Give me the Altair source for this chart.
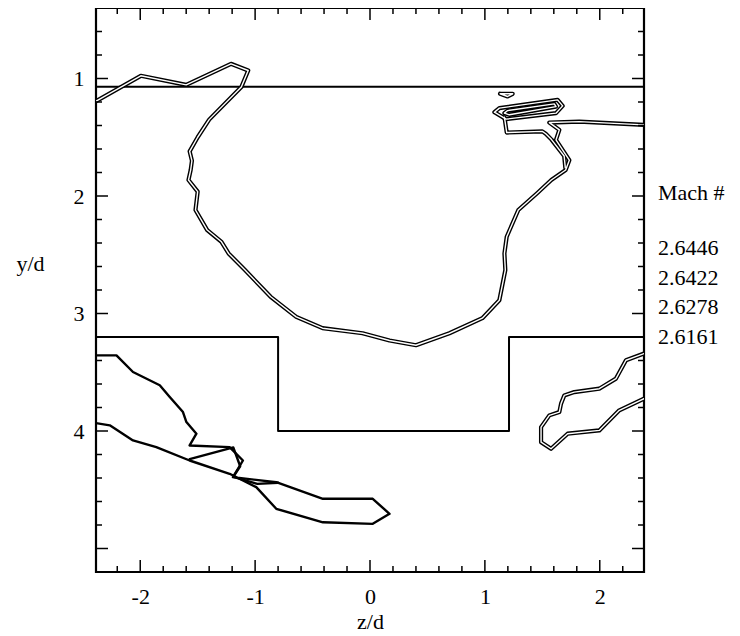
import altair as alt
import pandas as pd

# ---------------- axes ----------------
z_domain = [-2.385, 2.385]
y_domain = [0.4, 5.2]
x_major = [-2, -1, 0, 1, 2]
y_major = [1, 2, 3, 4, 5]
y_labeled = [1, 2, 3, 4]
x_minor = [-2.2, -1.8, -1.6, -1.4, -1.2, -0.8, -0.6, -0.4, -0.2, 0.2, 0.4, 0.6, 0.8,
           1.2, 1.4, 1.6, 1.8, 2.2]
y_minor = [0.6, 0.8, 1.2, 1.4, 1.6, 1.8, 2.2, 2.4, 2.6, 2.8, 3.2, 3.4, 3.6, 3.8,
           4.2, 4.4, 4.6, 4.8]

# ---------------- geometry ----------------
plate_line = [(-2.385, 1.07), (2.385, 1.07)]
step_profile = [(-2.385, 3.2), (-0.80, 3.2), (-0.80, 4.0), (1.21, 4.0), (1.21, 3.2), (2.385, 3.2)]

# ---------------- contours (Mach levels) ----------------
mach_levels = ["2.6446", "2.6422", "2.6278", "2.6161"]

main_u = [(-2.38, 1.19), (-1.995, 0.977), (-1.60, 1.054), (-1.21, 0.875), (-1.06, 0.932),
          (-1.12, 1.073), (-1.40, 1.35), (-1.50, 1.50), (-1.57, 1.62), (-1.55, 1.70),
          (-1.561, 1.779), (-1.58, 1.864), (-1.50, 1.963), (-1.519, 2.119), (-1.417, 2.29),
          (-1.293, 2.39), (-1.231, 2.489), (-1.088, 2.63), (-0.865, 2.858), (-0.642, 3.029),
          (-0.413, 3.125), (-0.065, 3.168), (0.17, 3.23), (0.40, 3.27), (0.691, 3.168),
          (0.978, 3.04), (1.126, 2.887), (1.178, 2.63), (1.17, 2.489), (1.19, 2.347),
          (1.291, 2.119), (1.457, 1.974), (1.578, 1.864), (1.703, 1.779), (1.735, 1.695),
          (1.619, 1.523), (1.648, 1.437), (1.561, 1.375), (1.822, 1.367), (2.385, 1.395)]
inner_branch = [(1.70, 1.76), (1.69, 1.66), (1.58, 1.52), (1.53, 1.47), (1.50, 1.45),
                (1.19, 1.46), (1.175, 1.36), (1.17, 1.33)]
island_outer = [(1.083, 1.287), (1.126, 1.252), (1.633, 1.182), (1.677, 1.233),
                (1.619, 1.295), (1.184, 1.346), (1.083, 1.287)]
island_inner = [(1.17, 1.295), (1.198, 1.273), (1.604, 1.216), (1.619, 1.239),
                (1.213, 1.309), (1.17, 1.295)]
small_tri = [(1.132, 1.13), (1.242, 1.13), (1.198, 1.153), (1.132, 1.13)]
lower_left = [(-2.385, 3.356), (-2.207, 3.356), (-2.063, 3.498), (-1.83, 3.611),
              (-1.743, 3.711), (-1.628, 3.839), (-1.598, 3.924), (-1.511, 4.023),
              (-1.57, 4.123), (-1.222, 4.137), (-1.106, 4.251), (-1.193, 4.393),
              (-0.816, 4.436), (-0.41, 4.577), (0.024, 4.577), (0.17, 4.705),
              (0.024, 4.79), (-0.41, 4.777), (-0.816, 4.662), (-0.99, 4.478),
              (-1.222, 4.364), (-1.57, 4.251), (-1.86, 4.137), (-2.063, 4.08),
              (-2.265, 3.952), (-2.385, 3.933)]
lower_left_cross = [(-1.57, 4.24), (-1.19, 4.14), (-1.13, 4.30), (-1.19, 4.39),
                    (-0.98, 4.45), (-0.80, 4.44)]
lower_right = [(2.385, 3.341), (2.228, 3.398), (2.141, 3.554), (1.996, 3.64), (1.778, 3.669),
               (1.691, 3.697), (1.663, 3.767), (1.648, 3.839), (1.561, 3.867), (1.489, 3.967),
               (1.489, 4.095), (1.576, 4.151), (1.72, 4.023), (1.996, 3.995), (2.17, 3.824),
               (2.385, 3.725)]

W, H = 548, 564
FONT = "Liberation Serif"
FS = 22

x_scale = alt.Scale(domain=z_domain, nice=False, zero=False)
y_scale = alt.Scale(domain=y_domain, reverse=True, nice=False, zero=False)

x_axis = alt.Axis(values=x_major, labelExpr="'' + datum.value", title="z/d",
                  tickSize=0, domain=False, grid=False, labelPadding=14,
                  titlePadding=4, labelFont=FONT, labelFontSize=FS,
                  labelFontWeight="normal", titleFont=FONT, titleFontSize=FS,
                  titleFontWeight="normal", labelColor="black", titleColor="black")
y_axis = alt.Axis(values=y_labeled, labelExpr="'' + datum.value", title="y/d",
                  tickSize=0, domain=False, grid=False, labelPadding=12,
                  titleAngle=0, titleX=-66, titleY=255, titleAlign="center",
                  titleBaseline="middle", labelFont=FONT, labelFontSize=FS,
                  labelFontWeight="normal", titleFont=FONT, titleFontSize=FS,
                  titleFontWeight="normal", labelColor="black", titleColor="black")


def path_df(paths):
    rows = []
    for name, pts in paths.items():
        for i, (z, y) in enumerate(pts):
            rows.append({"path": name, "order": i, "z": z, "y": y})
    return pd.DataFrame(rows)


def line_layer(df, width, color="black"):
    return alt.Chart(df).mark_line(color=color, strokeWidth=width, clip=True,
                                   strokeJoin="round", strokeCap="round").encode(
        x=alt.X("z:Q", scale=x_scale, axis=x_axis),
        y=alt.Y("y:Q", scale=y_scale, axis=y_axis),
        detail="path:N",
        order="order:Q",
    )


geom_df = path_df({"plate": plate_line, "step": step_profile})
double_df = path_df({"u": main_u, "branch": inner_branch, "isl_o": island_outer,
                     "isl_i": island_inner, "tri": small_tri, "lr": lower_right})
solid_df = path_df({"ll": lower_left, "llx": lower_left_cross})

layers = [line_layer(geom_df, 2),
          line_layer(double_df, 4.2),
          line_layer(double_df, 1.4, "white"),
          line_layer(solid_df, 2.4)]


# inward ticks on all four sides
def tick_layers(vals, length, axis):
    df = pd.DataFrame({"v": vals})
    if axis == "x":
        xe = alt.X("v:Q", scale=x_scale, axis=x_axis)
        enc_top = dict(x=xe, y=alt.value(0), y2=alt.value(length))
        enc_bot = dict(x=xe, y=alt.value(H), y2=alt.value(H - length))
    else:
        ye = alt.Y("v:Q", scale=y_scale, axis=y_axis)
        enc_top = dict(y=ye, x=alt.value(0), x2=alt.value(length))
        enc_bot = dict(y=ye, x=alt.value(W), x2=alt.value(W - length))
    return [alt.Chart(df).mark_rule(color="black", strokeWidth=1.5).encode(**enc_top),
            alt.Chart(df).mark_rule(color="black", strokeWidth=1.5).encode(**enc_bot)]


layers += tick_layers(x_major, 12, "x") + tick_layers(x_minor, 6, "x")
layers += tick_layers(y_major, 12, "y") + tick_layers(y_minor, 6, "y")

# legend text
legend_title = "Mach #"
layers.append(alt.Chart(pd.DataFrame({"t": [legend_title]})).mark_text(
    font=FONT, fontSize=FS, align="left", baseline="middle", color="black").encode(
    text="t:N", x=alt.value(562), y=alt.value(185)))
for i, lv in enumerate(mach_levels):
    layers.append(alt.Chart(pd.DataFrame({"t": [lv]})).mark_text(
        font=FONT, fontSize=FS, align="left", baseline="middle", color="black").encode(
        text="t:N", x=alt.value(562), y=alt.value(240 + i * 29.5)))

chart = alt.layer(*layers).properties(
    width=W, height=H,
    background="white",
    autosize=alt.AutoSizeParams(type="none"),
    padding={"left": 88, "top": 0, "right": 86, "bottom": 64},
).configure_view(stroke="black", strokeWidth=2.2)

chart.save("out.html", embed_options={"renderer": "svg", "actions": False})
